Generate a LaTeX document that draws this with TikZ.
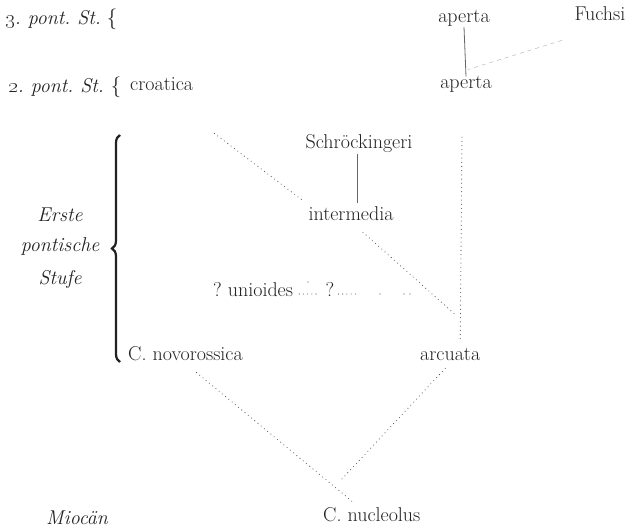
\documentclass[tikz,border=0pt]{standalone}
\usetikzlibrary{decorations.pathreplacing,calc}
\definecolor{txt}{HTML}{222222}
\definecolor{dotc}{HTML}{555555}
\definecolor{linec}{HTML}{666666}
\frenchspacing
\begin{document}
\begin{tikzpicture}[x=1pt,y=-1pt,
  font=\fontsize{20}{24}\selectfont,
  lbl/.style={inner sep=0pt, anchor=base, text=txt},
  lblw/.style={lbl, anchor=base west},
  lble/.style={lbl, anchor=base east},
  stage/.style={lbl, font=\fontsize{20}{24}\selectfont\itshape},
  dotline/.style={draw=dotc, line width=1.1pt, line cap=round, dash pattern=on 0pt off 4.2pt},
  solidline/.style={draw=linec, line width=0.8pt},
  fuchsline/.style={draw=gray!55, line width=0.5pt, dash pattern=on 4pt off 4pt},
  bigbrace/.style={draw=txt, line width=2.2pt, decorate, decoration={brace, amplitude=8pt, aspect=0.5}}
]
\fill[white] (0,0) rectangle (636,529);
\useasboundingbox (0,0) rectangle (636,529);

% stage labels
\node[stage, anchor=base east] (p3) at (101,25) {\oldstylenums{3}. pont. St.};
\node[lbl] (b3) at (112,25) {$\{$};
\node[stage, anchor=base east] (p2) at (104,93) {\oldstylenums{2}. pont. St.};
\node[lbl] (b2) at (116,93) {$\{$};
\node[stage] (erste) at (60,221) {Erste};
\node[stage] (pont) at (60,251) {pontische};
\node[stage] (stufe) at (60,284) {Stufe};
\node[stage] (mio) at (77,524) {Mioc\"an};

% big brace
\coordinate (brb) at (120,362);
\coordinate (brt) at (120,135);
\draw[bigbrace] (brb) -- (brt);

% taxa
\node[lbl] (ap3) at (464,23) {aperta};
\node[lbl] (fu) at (600,21) {Fuchsi};
\node[lblw] (cro) at (130,91) {croatica};
\node[lbl] (ap2) at (466,89) {aperta};
\node[lbl] (sch) at (359,149) {Schr\"ockingeri};
\node[lbl] (int) at (351,220) {intermedia};
\node[lblw] (uni) at (213,296) {? unioides};
\node[lbl] (q) at (330,296) {?};
\node[lblw] (nov) at (128,360) {C. novorossica};
\node[lblw] (arc) at (420,360) {arcuata};
\node[lblw] (nuc) at (323,521) {C. nucleolus};

% solid connectors
\draw[solidline] (ap3.south) -- (ap2.north);
\draw[solidline, shorten <=1pt, shorten >=3pt] ([xshift=-2pt]sch.south) -- ([xshift=6pt]int.north);

% Fuchsi dashed
\draw[fuchsline] ([shift={(-38,19)}]fu.south) -- ([shift={(2,-7)}]ap2.north);

% dotted connectors
\draw[dotline] ([shift={(21,42)}]cro.south east) -- ([shift={(-5,-5)}]int.north west);
\draw[dotline] ([shift={(12,12)}]int.south) -- ([shift={(5,-33)}]arc.north);
\draw[dotline] ([shift={(-4,44)}]ap2.south) -- ([shift={(10,-6)}]arc.north);
\draw[dotline] ([shift={(11,12)}]nov.south) -- ([shift={(-18.5,-4.5)}]nuc.north);
\coordinate (jn) at (341,480);
\draw[dotline] ([shift={(-5,8)}]arc.south) -- (jn);

% unioides dots
\draw[dotline] ([shift={(6,-2)}]uni.base east) -- ([shift={(-6,-2)}]q.base west);
\draw[dotline] ([shift={(4,-2)}]q.base east) -- ([shift={(24,-2)}]q.base east);
\fill[dotc] (308,282) circle (0.6);
\fill[dotc] (380,294) circle (0.55);
\fill[dotc] (404,294) circle (0.55);
\fill[dotc] (410,294) circle (0.55);
\end{tikzpicture}
\end{document}
